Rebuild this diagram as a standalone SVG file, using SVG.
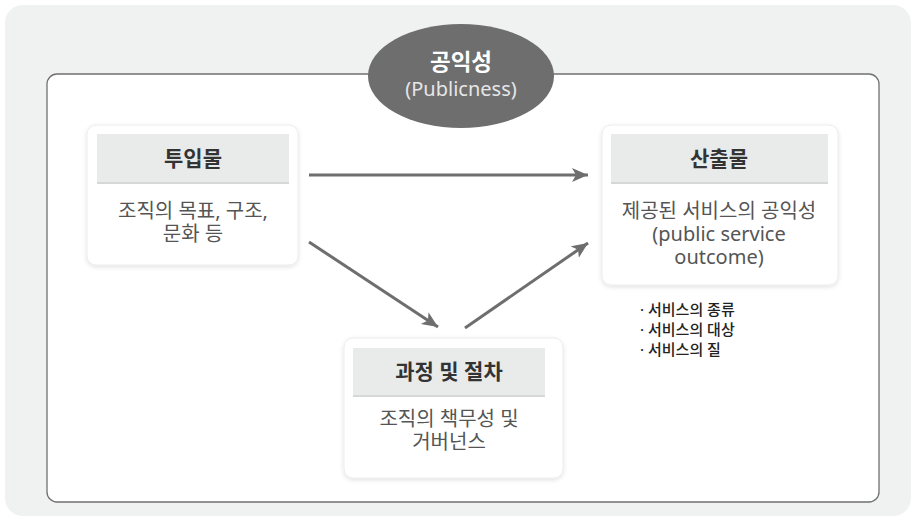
<svg xmlns="http://www.w3.org/2000/svg" width="916" height="521" viewBox="0 0 916 521">
  <defs>
    <filter id="sh" x="-10%" y="-10%" width="120%" height="125%">
      <feDropShadow dx="0" dy="1.5" stdDeviation="2" flood-color="#000" flood-opacity="0.12"/>
    </filter>
    <marker id="ah" markerUnits="userSpaceOnUse" markerWidth="18" markerHeight="16" refX="16" refY="7" orient="auto">
      <path d="M0,0 L16,7 L0,14 L4,7 z" fill="#6e6e6e"/>
    </marker>
  </defs>
  <style>
    .box { fill: #ffffff; stroke: #ececec; stroke-width: 1; filter: url(#sh); }
    .hdr { fill: #e9eaea; }
    .hdrline { stroke: #d6d7d7; stroke-width: 2; }
    .ht { font-family: "Noto Sans", "Noto Sans CJK KR", sans-serif; font-size: 21px; font-weight: 700; fill: #333333; text-anchor: middle; }
    .bt { font-family: "Noto Sans", "Noto Sans CJK KR", sans-serif; font-size: 20px; fill: #555555; text-anchor: middle; }
    .bl { font-family: "Noto Sans", "Noto Sans CJK KR", sans-serif; font-size: 15px; font-weight: 500; fill: #222222; }
    .conn { stroke: #6e6e6e; stroke-width: 3; fill: none; marker-end: url(#ah); }
  </style>

  <rect x="5" y="5" width="906" height="511" rx="18" fill="#f0f1f1"/>
  <rect x="47" y="74" width="832" height="428" rx="10" fill="#ffffff" stroke="#707070" stroke-width="1.3"/>

  <g id="publicness">
    <ellipse cx="461" cy="76" rx="93" ry="52" fill="#6e6e6e"/>
    <text x="461" y="70" font-family="Noto Sans CJK KR, sans-serif" font-size="22.5" font-weight="700" fill="#ffffff" text-anchor="middle">공익성</text>
    <text x="461" y="96" font-family="Noto Sans, Noto Sans CJK KR, sans-serif" font-size="20" fill="#e6e6e6" text-anchor="middle">(Publicness)</text>
  </g>

  <g id="input">
    <rect class="box" x="87" y="125" width="211" height="140" rx="9"/>
    <rect class="hdr" x="97" y="134" width="192" height="49"/>
    <line class="hdrline" x1="97" y1="183" x2="289" y2="183"/>
    <text class="ht" x="193" y="166">투입물</text>
    <text class="bt" x="193" y="218">조직의 목표, 구조,<tspan x="193" dy="23">문화 등</tspan></text>
  </g>

  <g id="output">
    <rect class="box" x="602" y="125" width="236" height="160" rx="9"/>
    <rect class="hdr" x="611" y="134" width="217" height="49"/>
    <line class="hdrline" x1="611" y1="183" x2="828" y2="183"/>
    <text class="ht" x="719" y="166">산출물</text>
    <text class="bt" x="719" y="218">제공된 서비스의 공익성<tspan x="719" dy="23">(public service</tspan><tspan x="719" dy="23">outcome)</tspan></text>
  </g>

  <g id="output-items">
    <text class="bl" x="640" y="315">· 서비스의 종류<tspan x="640" dy="20">· 서비스의 대상</tspan><tspan x="640" dy="20">· 서비스의 질</tspan></text>
  </g>

  <g id="process">
    <rect class="box" x="344" y="338" width="219" height="140" rx="9"/>
    <rect class="hdr" x="353" y="348" width="192" height="48"/>
    <line class="hdrline" x1="353" y1="396" x2="545" y2="396"/>
    <text class="ht" x="449" y="379">과정 및 절차</text>
    <text class="bt" x="449" y="426">조직의 책무성 및<tspan x="449" dy="23">거버넌스</tspan></text>
  </g>

  <g id="connectors">
    <line class="conn" x1="309" y1="175" x2="588" y2="175"/>
    <line class="conn" x1="309" y1="242" x2="438" y2="327"/>
    <line class="conn" x1="465" y1="328" x2="588" y2="243"/>
  </g>
</svg>
